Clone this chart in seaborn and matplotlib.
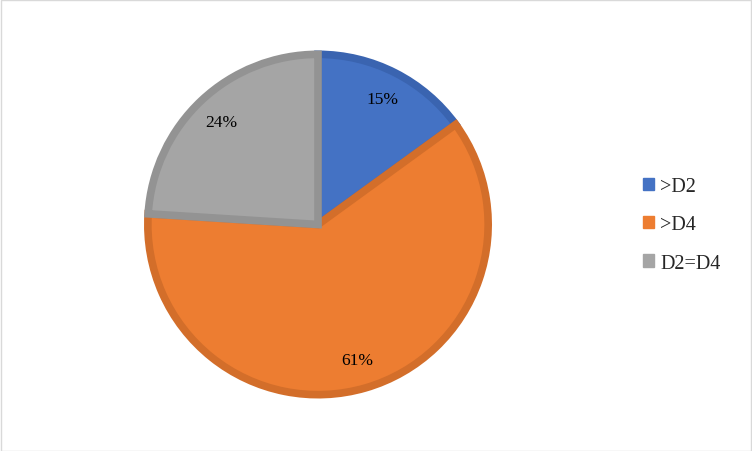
import matplotlib
matplotlib.use("Agg")
import matplotlib.pyplot as plt
import seaborn as sns
from matplotlib.patches import Rectangle, Patch

categories = [">D2", ">D4", "D2=D4"]
values = [15, 61, 24]
fill_colors = ["#4472C4", "#ED7D31", "#A5A5A5"]
edge_colors = ["#3A64B0", "#D36E2A", "#939393"]

sns.set_theme(style="white")
plt.rcParams['font.family'] = ['Liberation Serif', 'DejaVu Serif']

W, H = 752, 452
fig = plt.figure(figsize=(W / 100, H / 100), dpi=100)
fig.patch.set_facecolor("white")

cx, cy, r = 318, 225.5, 174
ax = fig.add_axes([(cx - r) / W, (H - cy - r) / H, 2 * r / W, 2 * r / H])
wedges, texts, autotexts = ax.pie(
    values, colors=fill_colors, startangle=90, counterclock=False,
    radius=0.978, autopct=lambda p: f"{p:.0f}%", pctdistance=0.83,
    wedgeprops=dict(linewidth=5.5, joinstyle="miter"),
    textprops=dict(fontsize=12.5, color="black"),
)
for w, ec in zip(wedges, edge_colors):
    w.set_edgecolor(ec)
ax.set_xlim(-1, 1)
ax.set_ylim(-1, 1)
ax.set_aspect("equal")
ax.axis("off")

handles = [Patch(facecolor=c, edgecolor=c) for c in fill_colors]
fig.legend(handles, categories, loc="center left", bbox_to_anchor=(643 / W, 1 - 226 / H),
           frameon=False, fontsize=14.5, handlelength=0.55, handleheight=0.55,
           handletextpad=0.3, labelspacing=0.95, borderaxespad=0, borderpad=0)

fig.add_artist(Rectangle((0.5 / W, 0.5 / H), 1 - 1.5 / W, 1 - 1.5 / H, transform=fig.transFigure,
                         fill=False, edgecolor="#D9D9D9", linewidth=1))

fig.savefig("out.png", dpi=100)
